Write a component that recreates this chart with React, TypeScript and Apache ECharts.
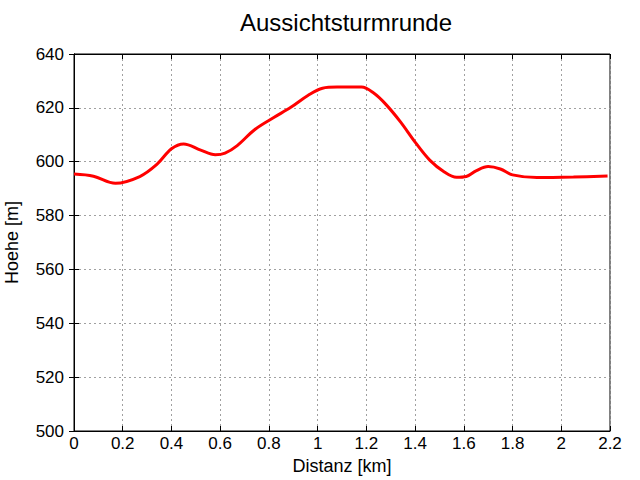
import React, { useEffect, useRef } from "react";
import * as echarts from "echarts";

const distanceKm = [0, 0.08, 0.17, 0.27, 0.34, 0.4, 0.45, 0.52, 0.58, 0.62, 0.67, 0.74, 0.82, 0.89, 0.96, 1.02, 1.08, 1.18, 1.23, 1.28, 1.34, 1.4, 1.46, 1.52, 1.57, 1.61, 1.65, 1.7, 1.75, 1.8, 1.9, 2.05, 2.19];
const elevationM = [595.4, 594.6, 592.0, 594.5, 599.0, 604.8, 606.6, 604.3, 602.6, 603.2, 606.0, 611.8, 616.4, 620.2, 624.6, 627.3, 627.7, 627.7, 625.5, 621.3, 614.8, 607.3, 600.6, 596.2, 594.2, 594.5, 596.6, 598.2, 597.3, 595.1, 594.1, 594.3, 594.7];

const titleText = "Aussichtsturmrunde";
const xName = "Distanz [km]";
const yName = "Hoehe [m]";

export default function App() {
  const ref = useRef<HTMLDivElement>(null);
  useEffect(() => {
    document.body.style.margin = "0";
    if (!ref.current) return;
    const chart = echarts.init(ref.current, undefined, { renderer: "svg" });
    const font = "'Liberation Sans', Arial, sans-serif";
    const split = { show: true, lineStyle: { color: "#a0a0a0", type: [2, 3] as any, width: 1 } };
    const tick = { show: true, inside: true, length: 5, lineStyle: { color: "#000" } };
    chart.setOption({
      animation: false,
      backgroundColor: "#fff",
      title: {
        text: titleText,
        left: 341,
        textAlign: "center",
        top: 5,
        textStyle: { fontFamily: font, fontSize: 24, fontWeight: "normal", color: "#000" },
      },
      grid: {
        left: 74, right: 30, top: 54, bottom: 49,
        containLabel: false,
        outerBoundsMode: "none",
        show: true, borderColor: "#000", borderWidth: 1, backgroundColor: "transparent",
      },
      xAxis: [
        {
          type: "value",
          min: 0,
          max: 2.2,
          interval: 0.2,
          name: xName,
          nameLocation: "middle",
          nameGap: 26,
          nameTextStyle: { fontFamily: font, fontSize: 18, color: "#000" },
          axisLine: { show: true, lineStyle: { color: "#000" } },
          axisTick: tick,
          axisLabel: {
            fontFamily: font,
            fontSize: 17,
            color: "#000",
            margin: 4,
            formatter: (v: number) => String(parseFloat(v.toFixed(1))),
          },
          splitLine: split,
        },
        {
          type: "value",
          position: "top",
          min: 0,
          max: 2.2,
          interval: 0.2,
          axisLine: { show: true, lineStyle: { color: "#000" } },
          axisTick: tick,
          axisLabel: { show: false },
          splitLine: { show: false },
        },
      ],
      yAxis: [
        {
          type: "value",
          min: 500,
          max: 640,
          interval: 20,
          name: yName,
          nameLocation: "middle",
          nameGap: 53,
          nameTextStyle: { fontFamily: font, fontSize: 18, color: "#000" },
          axisLine: { show: true, lineStyle: { color: "#000" } },
          axisTick: tick,
          axisLabel: { fontFamily: font, fontSize: 17, color: "#000", margin: 10 },
          splitLine: split,
        },
        {
          type: "value",
          position: "right",
          min: 500,
          max: 640,
          interval: 20,
          axisLine: { show: true, lineStyle: { color: "#000" } },
          axisTick: tick,
          axisLabel: { show: false },
          splitLine: { show: false },
        },
      ],
      series: [
        {
          type: "line",
          xAxisIndex: 0,
          yAxisIndex: 0,
          data: distanceKm.map((d, i) => [d, elevationM[i]]),
          smooth: 0.35,
          showSymbol: false,
          symbol: "none",
          lineStyle: { color: "#ff0000", width: 3 },
        },
      ],
    });
    return () => chart.dispose();
  }, []);
  return <div ref={ref} style={{ width: 640, height: 480, position: "absolute", left: 0, top: 0 }} />;
}
